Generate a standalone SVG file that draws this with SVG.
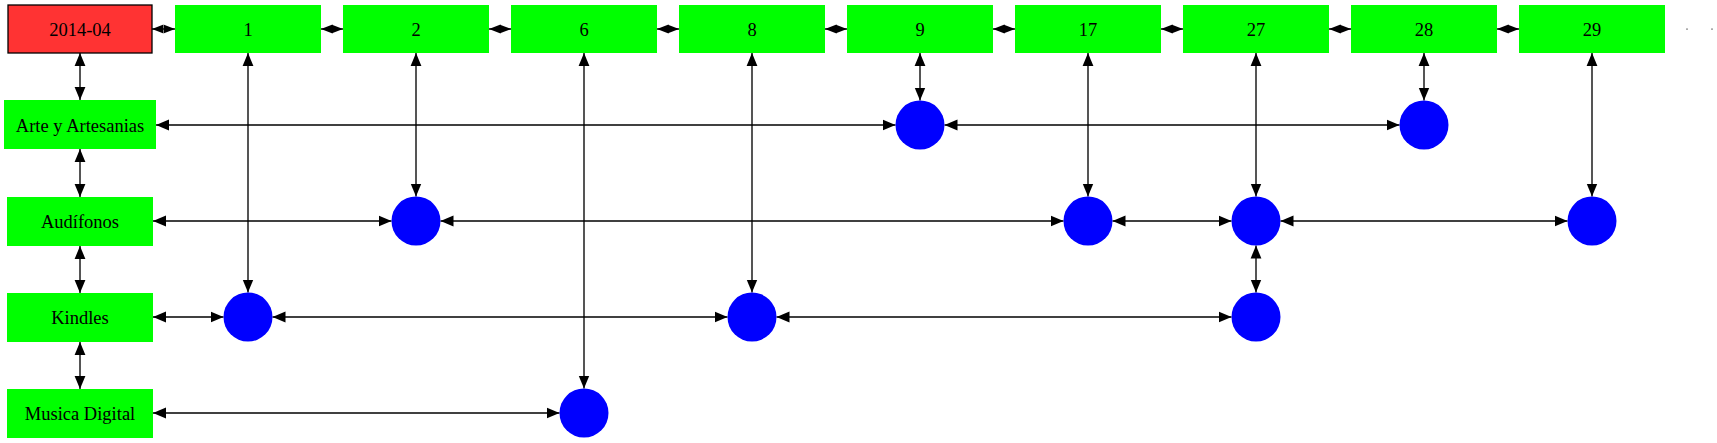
<svg xmlns="http://www.w3.org/2000/svg" width="1717" height="443" viewBox="0 0 1717 443">
<style>
.g{fill:#00ff00;stroke:#00ff00;stroke-width:1}
.r{fill:#ff3333;stroke:#000;stroke-width:1.3}
.c{fill:#0000ff}
text{font-family:"Liberation Serif","Times New Roman",serif;font-size:18.5px;text-anchor:middle;fill:#000}
.h{stroke:#000;stroke-width:1.4;fill:none;marker-start:url(#a);marker-end:url(#a)}
.v{stroke:#555;stroke-width:2;fill:none;marker-start:url(#a);marker-end:url(#a)}
.t{stroke:#000;stroke-width:1.4;fill:none;marker-start:url(#s);marker-end:url(#s)}
</style>
<defs>
<marker id="a" markerUnits="userSpaceOnUse" markerWidth="14" markerHeight="12" refX="13" refY="6" orient="auto-start-reverse" viewBox="0 0 14 12"><path d="M0,0.6 L13,6 L0,11.4 z" fill="#000"/></marker>
<marker id="s" markerUnits="userSpaceOnUse" markerWidth="12" markerHeight="10" refX="11.5" refY="5" orient="auto-start-reverse" viewBox="0 0 12 10"><path d="M0,0.5 L11.5,5 L0,9.5 z" fill="#000"/></marker>
</defs>
<g id="connectors">
<line class="t" x1="152" y1="29" x2="175" y2="29"/>
<line class="t" x1="321" y1="29" x2="343" y2="29"/>
<line class="t" x1="489" y1="29" x2="511" y2="29"/>
<line class="t" x1="657" y1="29" x2="679" y2="29"/>
<line class="t" x1="825" y1="29" x2="847" y2="29"/>
<line class="t" x1="993" y1="29" x2="1015" y2="29"/>
<line class="t" x1="1161" y1="29" x2="1183" y2="29"/>
<line class="t" x1="1329" y1="29" x2="1351" y2="29"/>
<line class="t" x1="1497" y1="29" x2="1519" y2="29"/>
<line class="v" x1="80" y1="53" x2="80" y2="100"/>
<line class="v" x1="80" y1="149" x2="80" y2="197"/>
<line class="v" x1="80" y1="246" x2="80" y2="293"/>
<line class="v" x1="80" y1="342" x2="80" y2="389"/>
<line class="v" x1="248" y1="53" x2="248" y2="292.5"/>
<line class="v" x1="416" y1="53" x2="416" y2="196.5"/>
<line class="v" x1="584" y1="53" x2="584" y2="388.5"/>
<line class="v" x1="752" y1="53" x2="752" y2="292.5"/>
<line class="v" x1="920" y1="53" x2="920" y2="100.5"/>
<line class="v" x1="1088" y1="53" x2="1088" y2="196.5"/>
<line class="v" x1="1256" y1="53" x2="1256" y2="196.5"/>
<line class="v" x1="1256" y1="245.5" x2="1256" y2="292.5"/>
<line class="v" x1="1424" y1="53" x2="1424" y2="100.5"/>
<line class="v" x1="1592" y1="53" x2="1592" y2="196.5"/>
<line class="h" x1="156" y1="125" x2="895.5" y2="125"/>
<line class="h" x1="944.5" y1="125" x2="1399.5" y2="125"/>
<line class="h" x1="153" y1="221" x2="391.5" y2="221"/>
<line class="h" x1="440.5" y1="221" x2="1063.5" y2="221"/>
<line class="h" x1="1112.5" y1="221" x2="1231.5" y2="221"/>
<line class="h" x1="1280.5" y1="221" x2="1567.5" y2="221"/>
<line class="h" x1="153" y1="317" x2="223.5" y2="317"/>
<line class="h" x1="272.5" y1="317" x2="727.5" y2="317"/>
<line class="h" x1="776.5" y1="317" x2="1231.5" y2="317"/>
<line class="h" x1="153" y1="413" x2="559.5" y2="413"/>
<rect x="1686" y="28.5" width="2" height="1.2" fill="#888"/>
<rect x="1711" y="28.5" width="2" height="1.2" fill="#888"/>
</g>
<g id="n2014-04"><rect class="r" x="8" y="5" width="144" height="48"/><text x="80" y="35.5">2014-04</text></g>
<g id="n1"><rect class="g" x="175.5" y="5.5" width="145" height="47"/><text x="248" y="35.5">1</text></g>
<g id="n2"><rect class="g" x="343.5" y="5.5" width="145" height="47"/><text x="416" y="35.5">2</text></g>
<g id="n6"><rect class="g" x="511.5" y="5.5" width="145" height="47"/><text x="584" y="35.5">6</text></g>
<g id="n8"><rect class="g" x="679.5" y="5.5" width="145" height="47"/><text x="752" y="35.5">8</text></g>
<g id="n9"><rect class="g" x="847.5" y="5.5" width="145" height="47"/><text x="920" y="35.5">9</text></g>
<g id="n17"><rect class="g" x="1015.5" y="5.5" width="145" height="47"/><text x="1088" y="35.5">17</text></g>
<g id="n27"><rect class="g" x="1183.5" y="5.5" width="145" height="47"/><text x="1256" y="35.5">27</text></g>
<g id="n28"><rect class="g" x="1351.5" y="5.5" width="145" height="47"/><text x="1424" y="35.5">28</text></g>
<g id="n29"><rect class="g" x="1519.5" y="5.5" width="145" height="47"/><text x="1592" y="35.5">29</text></g>
<g id="arte"><rect class="g" x="4.5" y="100.5" width="151" height="48"/><text x="80" y="131.5">Arte y Artesanias</text></g>
<g id="audifonos"><rect class="g" x="7.5" y="197.5" width="145" height="48"/><text x="80" y="227.5">Audífonos</text></g>
<g id="kindles"><rect class="g" x="7.5" y="293.5" width="145" height="48"/><text x="80" y="323.5">Kindles</text></g>
<g id="musica"><rect class="g" x="7.5" y="389.5" width="145" height="48"/><text x="80" y="419.5">Musica Digital</text></g>
<g id="c-arte-9"><circle class="c" cx="920" cy="125" r="24.5"/></g>
<g id="c-arte-28"><circle class="c" cx="1424" cy="125" r="24.5"/></g>
<g id="c-aud-2"><circle class="c" cx="416" cy="221" r="24.5"/></g>
<g id="c-aud-17"><circle class="c" cx="1088" cy="221" r="24.5"/></g>
<g id="c-aud-27"><circle class="c" cx="1256" cy="221" r="24.5"/></g>
<g id="c-aud-29"><circle class="c" cx="1592" cy="221" r="24.5"/></g>
<g id="c-kin-1"><circle class="c" cx="248" cy="317" r="24.5"/></g>
<g id="c-kin-8"><circle class="c" cx="752" cy="317" r="24.5"/></g>
<g id="c-kin-27"><circle class="c" cx="1256" cy="317" r="24.5"/></g>
<g id="c-mus-6"><circle class="c" cx="584" cy="413" r="24.5"/></g>
</svg>
